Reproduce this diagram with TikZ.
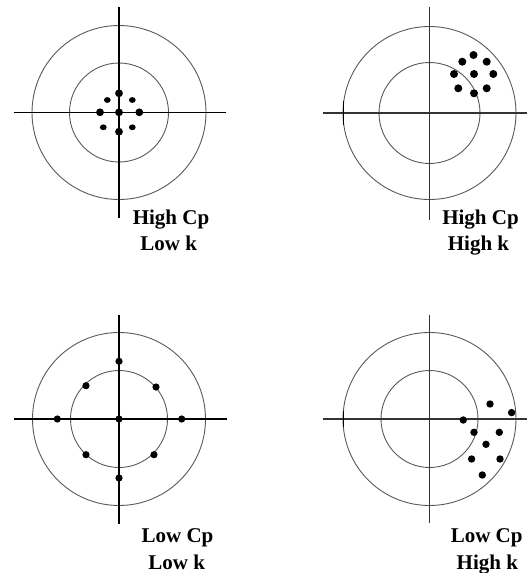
\documentclass[tikz,border=0pt]{standalone}
\usepackage{fontspec}
\setmainfont{Liberation Serif}
\begin{document}
\begin{tikzpicture}[x=1pt,y=-1pt,
  ring/.style={draw=black!65, line width=0.9pt},
  crossA/.style={draw=black, line width=1.8pt},
  crossB/.style={draw=black!80, line width=1.1pt},
  tickmark/.style={draw=black, line width=1.5pt},
  lbl/.style={font=\fontsize{21}{21}\selectfont\bfseries, inner sep=0pt, anchor=base},
  dotfill/.style={fill=black}]
\useasboundingbox (0,0) rectangle (527,573);
% centres
\coordinate (c1) at (119,112.5);
\coordinate (c2) at (429.5,113);
\coordinate (c3) at (119,419);
\coordinate (c4) at (429.5,419);
% target 1
\draw[ring] (c1) circle[radius=87pt];
\draw[ring] (c1) circle[radius=49.5pt];
\coordinate (t1n) at (119,7); \coordinate (t1s) at (119,218);
\coordinate (t1w) at (14,112.5); \coordinate (t1e) at (226,112.5);
\draw[crossA] (t1n) -- (t1s);
\draw[crossA] (t1w) -- (t1e);
\foreach \p in {(119,93.3),(100,112.3),(119,112.3),(139.3,112.3),(119,131.7)}
  \fill[dotfill] \p circle[radius=3.9pt];
\foreach \p in {(107.3,100),(132.3,100),(103.3,127.3),(132.3,127.3)}
  \fill[dotfill] \p ellipse[x radius=3.4pt, y radius=2.9pt];
\node[lbl] (l1a) at (171,224) {High Cp};
\node[lbl] (l1b) at (168.7,250.5) {Low k};
% target 2
\draw[ring] (c2) circle[radius=86.5pt];
\draw[ring] (c2) circle[radius=50.5pt];
\coordinate (t2n) at (429.5,7); \coordinate (t2s) at (429.5,220);
\coordinate (t2w) at (323,113); \coordinate (t2e) at (527,113);
\draw[crossB] (t2n) -- (t2s);
\draw[crossB] (t2w) -- (t2e);
\draw[tickmark] ([shift={(0,-12)}]c2) ++(-86.2,0) -- ++(0,24);
\foreach \p in {(473.5,55),(462.3,61.7),(486.7,61.7),(454,74),(474,74),(493.3,74),(458.3,88.3),(486.7,88.3),(474,93.3)}
  \fill[dotfill] \p circle[radius=4pt];
\node[lbl] (l2a) at (480.5,224) {High Cp};
\node[lbl] (l2b) at (478.5,250.5) {High k};
% target 3
\draw[ring] (c3) circle[radius=86.5pt];
\draw[ring] (c3) circle[radius=48.5pt];
\coordinate (t3n) at (119,315); \coordinate (t3s) at (119,524);
\coordinate (t3w) at (14,419); \coordinate (t3e) at (227,419);
\draw[crossA] (t3n) -- (t3s);
\draw[crossA] (t3w) -- (t3e);
\foreach \p in {(119,361.3),(86,385.7),(156,387),(57.3,419),(119,419),(181.7,419),(86,454.7),(154,454.7),(119,478)}
  \fill[dotfill] \p circle[radius=3.6pt];
\node[lbl] (l3a) at (177.5,542.5) {Low Cp};
\node[lbl] (l3b) at (176.7,569) {Low k};
% target 4
\draw[ring] (c4) circle[radius=86.5pt];
\draw[ring] (c4) circle[radius=48.5pt];
\coordinate (t4n) at (429.5,315); \coordinate (t4s) at (429.5,523);
\coordinate (t4w) at (323,419); \coordinate (t4e) at (527,419);
\draw[crossB] (t4n) -- (t4s);
\draw[crossB] (t4w) -- (t4e);
\draw[tickmark] ([shift={(0,-8)}]c4) ++(-86.2,0) -- ++(0,16);
\foreach \p in {(490,404),(511.6,412.6),(463.3,420),(474,432.3),(499.3,432.3),(486,444.3),(471.6,459),(500,459),(482.3,475)}
  \fill[dotfill] \p circle[radius=3.7pt];
\node[lbl] (l4a) at (486.7,542.5) {Low Cp};
\node[lbl] (l4b) at (487.3,569) {High k};
\end{tikzpicture}
\end{document}
